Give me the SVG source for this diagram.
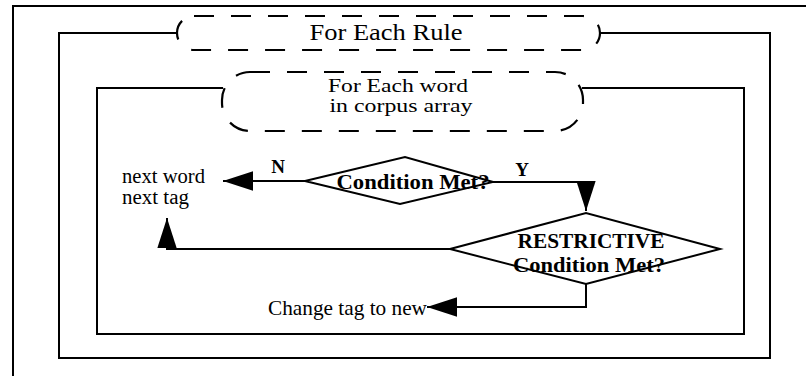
<svg xmlns="http://www.w3.org/2000/svg" width="806" height="376" viewBox="0 0 806 376">
<style>
.ln{fill:none;stroke:#000;stroke-width:2}
.dash{fill:none;stroke:#000;stroke-width:2.2;stroke-dasharray:20 17}
.sh{fill:#fff;stroke:#000;stroke-width:2}
.t{font-family:"Liberation Serif","Times New Roman",serif;fill:#000}
.b{font-family:"Liberation Serif","Times New Roman",serif;font-weight:bold;fill:#000}
</style>
<defs>
<marker id="ah" markerUnits="userSpaceOnUse" markerWidth="30" markerHeight="20" viewBox="0 0 28 18" refX="28" refY="9" orient="auto">
<path d="M0,0 L28,9 L0,18 Z" fill="#000"/>
</marker>
</defs>
<rect width="806" height="376" fill="#fff"/>
<g id="frame">
<path class="ln" d="M13,376 V6 H806"/>
</g>
<g id="connectors">
<path class="ln" d="M177,33 H59 V358 H770 V33 H600"/>
<path class="ln" d="M223,88 H97 V334 H744 V88 H582"/>
<path class="ln" d="M305,181 H223" marker-end="url(#ah)"/>
<path class="ln" d="M493,182 H586 V211" marker-end="url(#ah)"/>
<path class="ln" d="M450,249 H167 V218" marker-end="url(#ah)"/>
<path class="ln" d="M586,284 V307 H427" marker-end="url(#ah)"/>
</g>
<g id="rule-loop">
<rect class="dash" x="177" y="16" width="423" height="34" rx="17" ry="17"/>
<text class="t" x="386" y="40" font-size="23" text-anchor="middle" textLength="153" lengthAdjust="spacingAndGlyphs">For Each Rule</text>
</g>
<g id="word-loop">
<rect class="dash" x="222" y="72" width="361" height="59" rx="28" ry="28"/>
<text class="t" x="398" y="92" font-size="18" text-anchor="middle" textLength="140" lengthAdjust="spacingAndGlyphs">For Each word</text>
<text class="t" x="401" y="112" font-size="18" text-anchor="middle" textLength="143" lengthAdjust="spacingAndGlyphs">in corpus array</text>
</g>
<g id="condition">
<polygon class="sh" points="305,181 405,157 493,182 400,204"/>
<text class="b" x="413" y="189" font-size="22" text-anchor="middle" textLength="153" lengthAdjust="spacingAndGlyphs">Condition Met?</text>
</g>
<g id="restrictive">
<polygon class="sh" points="450,249 586,213 720,249 586,284"/>
<text class="b" x="591" y="248" font-size="22" text-anchor="middle" textLength="147" lengthAdjust="spacingAndGlyphs">RESTRICTIVE</text>
<text class="b" x="589" y="272" font-size="22" text-anchor="middle" textLength="152" lengthAdjust="spacingAndGlyphs">Condition Met?</text>
</g>
<g id="next">
<text class="t" x="122" y="183" font-size="20" textLength="83" lengthAdjust="spacingAndGlyphs">next word</text>
<text class="t" x="122" y="204" font-size="20" textLength="67" lengthAdjust="spacingAndGlyphs">next tag</text>
</g>
<g id="change">
<text class="t" x="268" y="315" font-size="22" textLength="159" lengthAdjust="spacingAndGlyphs">Change tag to new</text>
</g>
<g id="labels">
<text class="b" x="278" y="173" font-size="19" text-anchor="middle">N</text>
<text class="b" x="522" y="176" font-size="19" text-anchor="middle">Y</text>
</g>
</svg>
